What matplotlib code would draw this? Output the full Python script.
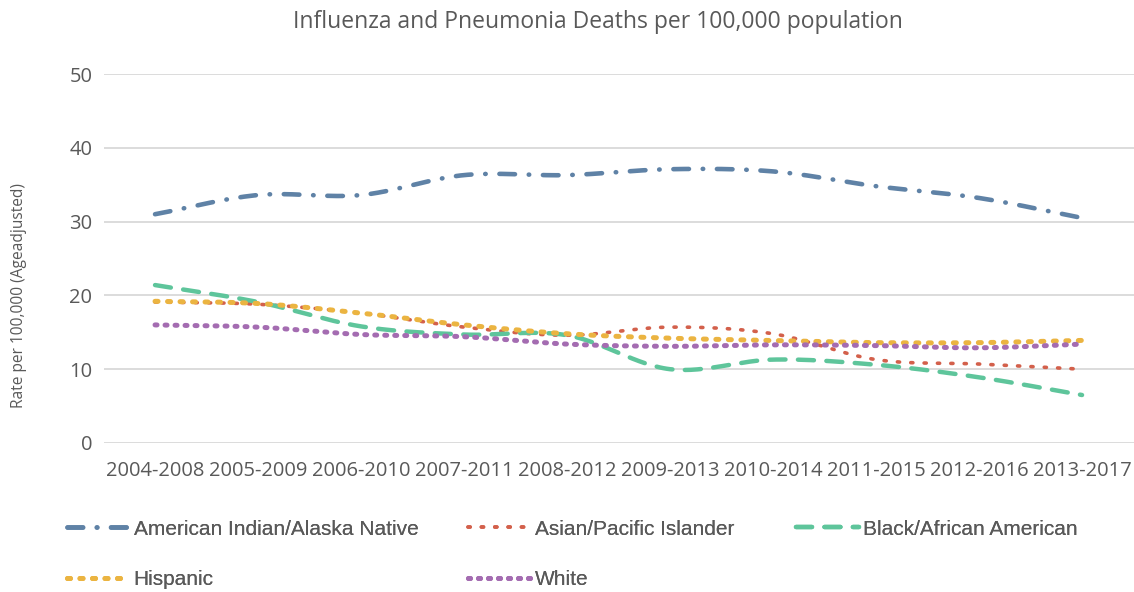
import numpy as np
import matplotlib
matplotlib.use("Agg")
import matplotlib.pyplot as plt
from matplotlib.lines import Line2D

# data
periods = ["2004-2008", "2005-2009", "2006-2010", "2007-2011", "2008-2012",
           "2009-2013", "2010-2014", "2011-2015", "2012-2016", "2013-2017"]
ai_an = [31.0, 33.6, 33.6, 36.3, 36.3, 37.1, 36.8, 34.8, 33.2, 30.5]
asian_pi = [19.1, 18.8, 17.6, 15.7, 14.6, 15.7, 14.8, 11.3, 10.7, 10.0]
black = [21.4, 19.1, 15.8, 14.7, 14.6, 10.0, 11.3, 10.6, 8.9, 6.5]
hispanic = [19.2, 18.9, 17.6, 16.0, 14.8, 14.2, 13.9, 13.6, 13.6, 13.9]
white = [16.0, 15.7, 14.7, 14.4, 13.4, 13.1, 13.3, 13.2, 12.9, 13.4]

text_col = "#595959"


def smooth(y, n=30):
    # catmull-rom curve through the points, like excel's smoothed line
    y = np.asarray(y, dtype=float)
    x = np.arange(len(y), dtype=float)
    px = np.concatenate([[2 * x[0] - x[1]], x, [2 * x[-1] - x[-2]]])
    py = np.concatenate([[2 * y[0] - y[1]], y, [2 * y[-1] - y[-2]]])
    xs, ys = [], []
    t = np.linspace(0, 1, n, endpoint=False)
    for i in range(1, len(px) - 2):
        for p, out in ((px, xs), (py, ys)):
            p0, p1, p2, p3 = p[i - 1], p[i], p[i + 1], p[i + 2]
            out.append(0.5 * ((2 * p1) + (-p0 + p2) * t
                              + (2 * p0 - 5 * p1 + 4 * p2 - p3) * t ** 2
                              + (-p0 + 3 * p1 - 3 * p2 + p3) * t ** 3))
    xs = np.concatenate(xs + [[x[-1]]])
    ys = np.concatenate(ys + [[y[-1]]])
    return xs, ys


series = [
    ("American Indian/Alaska Native", ai_an, "#5f82a6", 3.3, (0, (3.4, 3.0, 0.1, 3.0))),
    ("Asian/Pacific Islander", asian_pi, "#d3604b", 2.6, (0, (0.6, 3.1))),
    ("Black/African American", black, "#5ec59b", 3.2, (0, (3.6, 2.8))),
    ("Hispanic", hispanic, "#ebb441", 3.6, (0, (0.6, 1.9))),
    ("White", white, "#a46cb1", 3.6, (0, (0.4, 1.6))),
]

fig = plt.figure(figsize=(11.34, 5.92), dpi=100)
ax = fig.add_axes([0.0913, 0.2517, 0.9083, 0.6233])

handles = {}
for name, vals, col, lw, ls in series:
    xs, ys = smooth(vals)
    ax.plot(xs, ys, color=col, lw=lw, linestyle=ls,
            dash_capstyle="round", solid_capstyle="round")
    handles[name] = Line2D([], [], color=col, lw=lw, linestyle=ls,
                           dash_capstyle="round")

ax.set_xlim(-0.5, 9.5)
ax.set_ylim(0, 50)
ax.set_yticks(range(0, 51, 10))
ax.set_xticks(range(len(periods)))
ax.set_xticklabels(periods)
ax.grid(axis="y", color="#d9d9d9", lw=1.3)
ax.set_axisbelow(True)
for s in ax.spines.values():
    s.set_visible(False)
ax.tick_params(length=0, colors=text_col, labelsize=14.5)
for lab in ax.get_xticklabels() + ax.get_yticklabels():
    lab.set_family("Open Sans")
ax.tick_params(axis="x", pad=13)
ax.tick_params(axis="y", pad=8)

fig.text(0.017, 0.5, "Rate per 100,000 (Ageadjusted)", rotation=90,
         ha="center", va="center", color=text_col, fontsize=11.2, family="Open Sans")

fig.text(0.527, 0.962, "Influenza and Pneumonia Deaths per 100,000 population",
         ha="center", va="center", fontsize=16.5, color=text_col, family="Open Sans")

# legend laid out in three columns like the original
cols = [
    (0.059, ["American Indian/Alaska Native", "Hispanic"]),
    (0.413, ["Asian/Pacific Islander", "White"]),
    (0.702, ["Black/African American"]),
]
for x0, names in cols:
    leg = fig.legend([handles[n] for n in names], names, loc="upper left",
                     bbox_to_anchor=(x0, 0.122), frameon=False,
                     prop={"family": "Liberation Sans", "size": 15},
                     handlelength=3.0, handletextpad=0.2, labelspacing=1.5,
                     borderaxespad=0, borderpad=0, labelcolor=text_col)
    fig.add_artist(leg)

fig.savefig("out.png", dpi=100)
